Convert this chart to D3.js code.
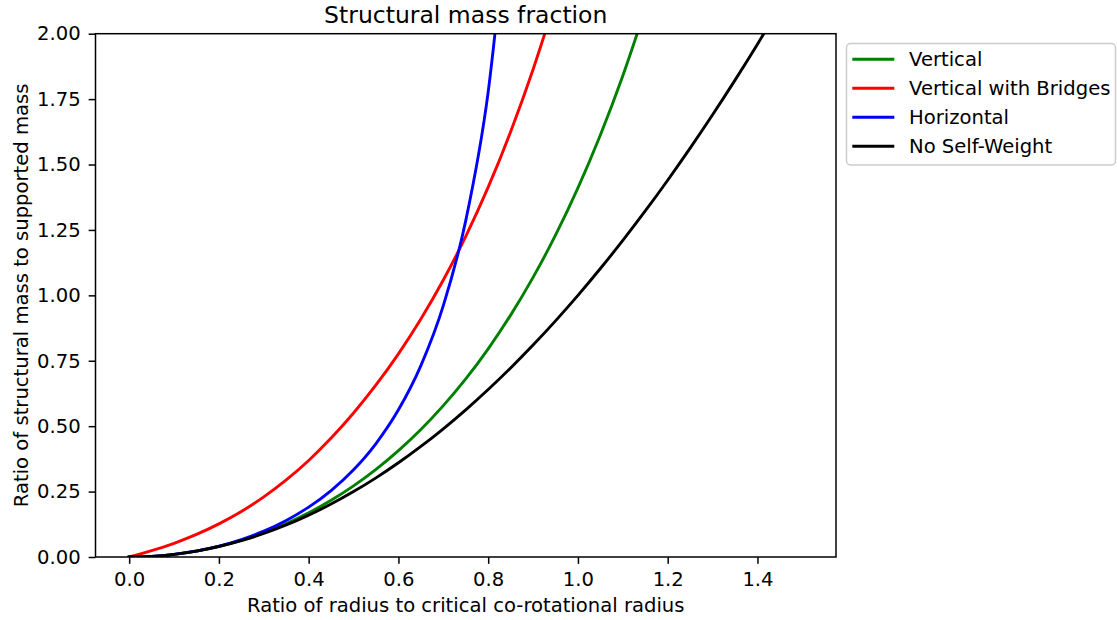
<!DOCTYPE html>
<html>
<head>
<meta charset="utf-8">
<script src="https://cdn.jsdelivr.net/npm/d3@7"></script>
<style>
  body { margin: 0; background: #fff; }
  svg { display: block; font-family: "DejaVu Sans", sans-serif; }
</style>
</head>
<body>
<div id="chart"></div>
<script>
// radius ratio (x) shared by all series
const radiusRatio = [0, 0.05, 0.1, 0.15, 0.2, 0.25, 0.3, 0.35, 0.4, 0.45,
  0.5, 0.55, 0.6, 0.65, 0.7, 0.75, 0.8, 0.85, 0.9, 0.95,
  1.0, 1.05, 1.1, 1.15, 1.2, 1.25, 1.3, 1.35, 1.4, 1.45];

const vertical = [0, 0.0025, 0.0100, 0.0227, 0.0405, 0.0638, 0.0928, 0.1276, 0.1688, 0.2167,
  0.2719, 0.3349, 0.4065, 0.4873, 0.5785, 0.6804, 0.7957, 0.9245, 1.0686, 1.2300,
  1.4107, 1.6129, 1.8396, 2.0937, null, null, null, null, null, null];

const verticalBridges = [0, 0.0240, 0.0525, 0.0864, 0.1267, 0.1740, 0.2296, 0.2943, 0.3690, 0.4545,
  0.5505, 0.6575, 0.7765, 0.9095, 1.0585, 1.2255, 1.4135, 1.6255, 1.8635, 2.1295,
  null, null, null, null, null, null, null, null, null, null];

const horizontal = [0, 0.0025, 0.0101, 0.0230, 0.0417, 0.0667, 0.0989, 0.1396, 0.1905, 0.2539,
  0.3333, 0.4337, 0.5625, 0.7316, 0.9608, 1.2857, 1.7778, 2.6036, null, null,
  null, null, null, null, null, null, null, null, null, null];

const noSelfWeight = [0, 0.0025, 0.01, 0.0225, 0.04, 0.0625, 0.09, 0.1225, 0.16, 0.2025,
  0.25, 0.3025, 0.36, 0.4225, 0.49, 0.5625, 0.64, 0.7225, 0.81, 0.9025,
  1.0, 1.1025, 1.21, 1.3225, 1.44, 1.5625, 1.69, 1.8225, 1.96, 2.1025];

const seriesNames = ['Vertical', 'Vertical with Bridges', 'Horizontal', 'No Self-Weight'];
const seriesColors = ['green', 'red', 'blue', 'black'];
const seriesValues = [vertical, verticalBridges, horizontal, noSelfWeight];

const xTicks = [0, 0.2, 0.4, 0.6, 0.8, 1.0, 1.2, 1.4];
const yTicks = [0, 0.25, 0.5, 0.75, 1.0, 1.25, 1.5, 1.75, 2.0];

const width = 1117,
      height = 620;
const plotLeft = 95.5, plotRight = 836, plotTop = 33.7, plotBottom = 557;
const fontSize = 19.6;

const x = d3.scaleLinear()
      .domain([-0.075, 1.575])
      .range([plotLeft, plotRight]);

const y = d3.scaleLinear()
      .domain([0, 2])
      .range([plotBottom, plotTop]);

const svg = d3.select('#chart').append('svg')
      .attr('width', width)
      .attr('height', height);

svg.append('defs').append('clipPath')
  .attr('id', 'plot-clip')
  .append('rect')
  .attr('x', plotLeft)
  .attr('y', plotTop)
  .attr('width', plotRight - plotLeft)
  .attr('height', plotBottom - plotTop);

// axes
const xAxis = svg.append('g')
      .attr('transform', `translate(0,${plotBottom})`)
      .call(d3.axisBottom(x).tickValues(xTicks).tickFormat(d3.format('.1f')).tickSize(6.85).tickPadding(8.5));

const yAxis = svg.append('g')
      .attr('transform', `translate(${plotLeft},0)`)
      .call(d3.axisLeft(y).tickValues(yTicks).tickFormat(d3.format('.2f')).tickSize(6.85).tickPadding(8));

[xAxis, yAxis].forEach(ax => {
  ax.select('.domain').remove();
  ax.selectAll('.tick line').attr('stroke', '#000').attr('stroke-width', 1.5);
  ax.selectAll('.tick text')
    .attr('fill', '#000')
    .style('font-size', fontSize + 'px')
    .style('font-family', '"DejaVu Sans", sans-serif');
});

// lines
const line = d3.line()
      .defined(d => d[1] !== null)
      .x(d => x(d[0]))
      .y(d => y(d[1]))
      .curve(d3.curveMonotoneX);

const plot = svg.append('g').attr('clip-path', 'url(#plot-clip)');

seriesValues.forEach((vals, i) => {
  const pts = radiusRatio.map((r, j) => [r, vals[j]]);
  plot.append('path')
    .datum(pts)
    .attr('d', line)
    .attr('fill', 'none')
    .attr('stroke', seriesColors[i])
    .attr('stroke-width', 2.9)
    .attr('stroke-linecap', 'square');
});

// frame
svg.append('rect')
  .attr('x', plotLeft)
  .attr('y', plotTop)
  .attr('width', plotRight - plotLeft)
  .attr('height', plotBottom - plotTop)
  .attr('fill', 'none')
  .attr('stroke', '#000')
  .attr('stroke-width', 1.5);

// title and labels
svg.append('text')
  .attr('x', (plotLeft + plotRight) / 2)
  .attr('y', 22.5)
  .attr('text-anchor', 'middle')
  .style('font-size', '23.5px')
  .text('Structural mass fraction');

svg.append('text')
  .attr('x', (plotLeft + plotRight) / 2)
  .attr('y', 612.3)
  .attr('text-anchor', 'middle')
  .style('font-size', fontSize + 'px')
  .text('Ratio of radius to critical co-rotational radius');

svg.append('text')
  .attr('transform', `translate(27.5,${(plotTop + plotBottom) / 2}) rotate(-90)`)
  .attr('text-anchor', 'middle')
  .style('font-size', fontSize + 'px')
  .text('Ratio of structural mass to supported mass');

// legend
const legend = svg.append('g');
legend.append('rect')
  .attr('x', 846.5)
  .attr('y', 43.5)
  .attr('width', 269)
  .attr('height', 121.5)
  .attr('rx', 4)
  .attr('fill', '#fff')
  .attr('fill-opacity', 0.8)
  .attr('stroke', '#cccccc')
  .attr('stroke-width', 1.5);

seriesNames.forEach((name, i) => {
  const ly = 59.3 + i * 29;
  legend.append('line')
    .attr('x1', 852.3)
    .attr('x2', 894.3)
    .attr('y1', ly)
    .attr('y2', ly)
    .attr('stroke', seriesColors[i])
    .attr('stroke-width', 2.9);
  legend.append('text')
    .attr('x', 909)
    .attr('y', ly + 7)
    .style('font-size', fontSize + 'px')
    .text(name);
});
</script>
</body>
</html>
